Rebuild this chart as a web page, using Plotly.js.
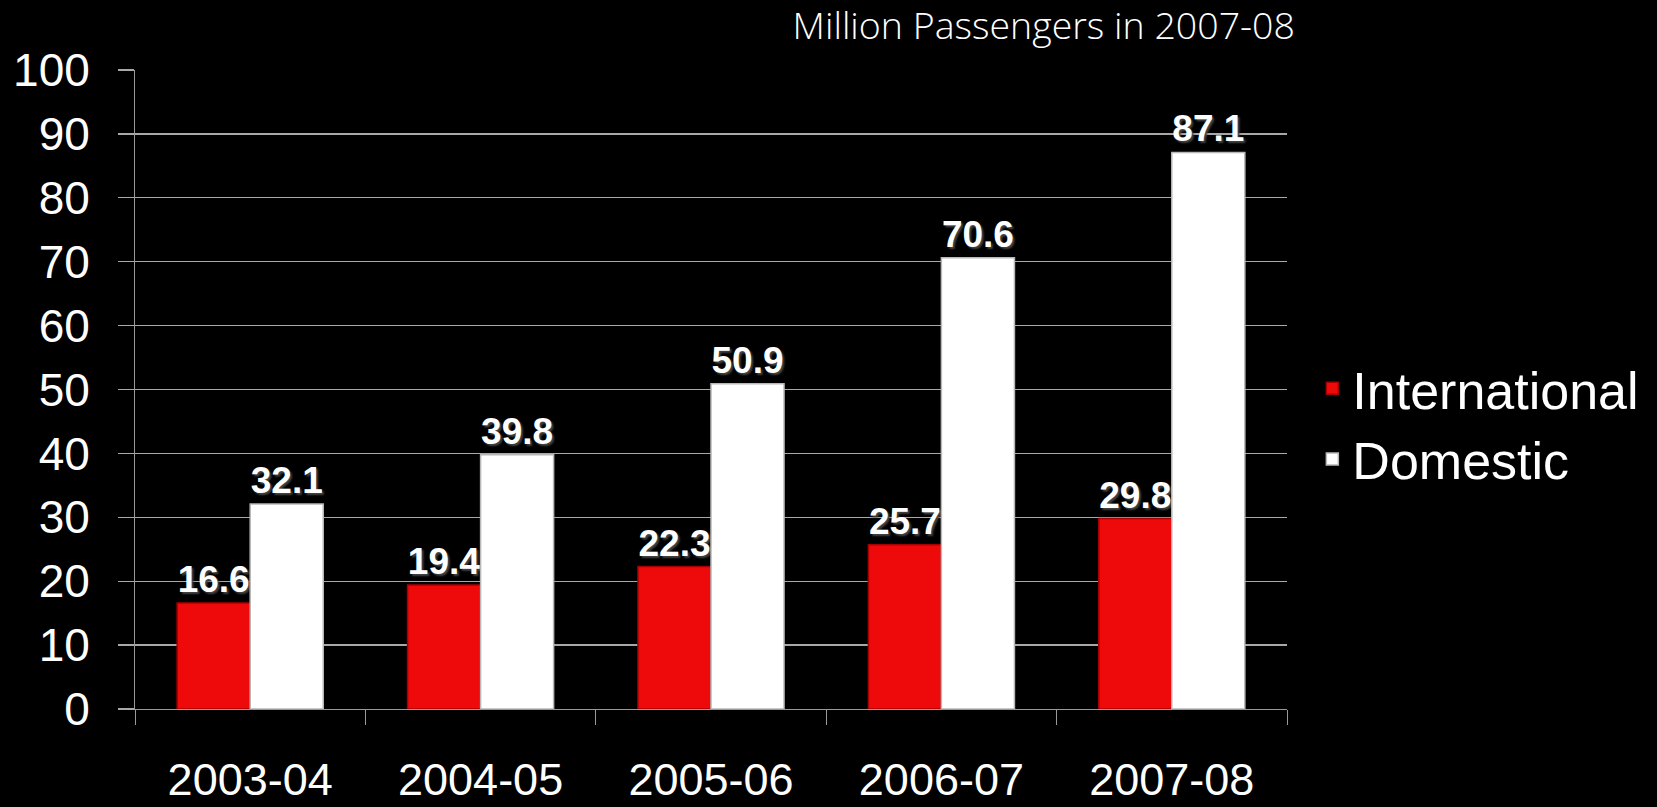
<!DOCTYPE html>
<html>
<head>
<meta charset="utf-8">
<script src="https://cdn.plot.ly/plotly-3.0.1.min.js"></script>
<style>html,body{margin:0;padding:0;background:#000;}#chart{width:1657px;height:807px;}</style>
</head>
<body>
<div id="chart"></div>
<script>
const categories = ["2003-04", "2004-05", "2005-06", "2006-07", "2007-08"];
const international = [16.6, 19.4, 22.3, 25.7, 29.8];
const domestic = [32.1, 39.8, 50.9, 70.6, 87.1];
const seriesNames = ["International", "Domestic"];
const chartTitle = "Million Passengers in 2007-08";

const labelFont = {family: "Liberation Sans, Arial, sans-serif", size: 37, color: "#ffffff", weight: 700, shadow: "2px 2px 2px #444"};

const traces = [
  {
    type: "bar", name: seriesNames[0], x: categories, y: international,
    marker: {color: "#ee0a0a", line: {color: "#a80000", width: 1.5}},
    text: international.map(v => v.toFixed(1)), textposition: "outside",
    textfont: labelFont, cliponaxis: false, hoverinfo: "x+y"
  },
  {
    type: "bar", name: seriesNames[1], x: categories, y: domestic,
    marker: {color: "#ffffff", line: {color: "#b8b8b8", width: 1.5}},
    text: domestic.map(v => v.toFixed(1)), textposition: "outside",
    textfont: labelFont, cliponaxis: false, hoverinfo: "x+y"
  }
];

const layout = {
  width: 1657, height: 807,
  paper_bgcolor: "#000000", plot_bgcolor: "#000000",
  margin: {l: 135, r: 370, t: 70, b: 98},
  barmode: "group", bargap: 0.366, bargroupgap: 0,
  title: {
    text: chartTitle, xref: "container", x: 0.7815, xanchor: "right",
    yref: "container", y: 0.968, yanchor: "middle",
    font: {family: "Open Sans, sans-serif", size: 37.5, color: "#ffffff", weight: 300}
  },
  xaxis: {
    type: "category", showgrid: false, zeroline: false,
    showline: true, linecolor: "#999999", linewidth: 1,
    ticks: "outside", tickson: "boundaries", ticklen: 15, tickcolor: "#999999", tickwidth: 1,
    ticklabelstandoff: 31,
    tickfont: {family: "Liberation Sans, Arial, sans-serif", size: 45, color: "#ffffff"}
  },
  yaxis: {
    range: [0, 100], dtick: 10, tick0: 0,
    showgrid: true, gridcolor: "#a8a8a8", gridwidth: 1.3, zeroline: false,
    showline: true, linecolor: "#999999", linewidth: 1,
    ticks: "outside", ticklen: 16, tickcolor: "#a8a8a8", tickwidth: 1.3,
    ticklabelstandoff: 19,
    tickfont: {family: "Liberation Sans, Arial, sans-serif", size: 46, color: "#ffffff"}
  },
  legend: {
    x: 1.022, xanchor: "left", y: 0.446, yanchor: "middle",
    bgcolor: "rgba(0,0,0,0)",
    font: {family: "Liberation Sans, Arial, sans-serif", size: 52, color: "#ffffff"}
  },
  showlegend: true
};

Plotly.newPlot("chart", traces, layout, {displayModeBar: false, staticPlot: true});
</script>
</body>
</html>
